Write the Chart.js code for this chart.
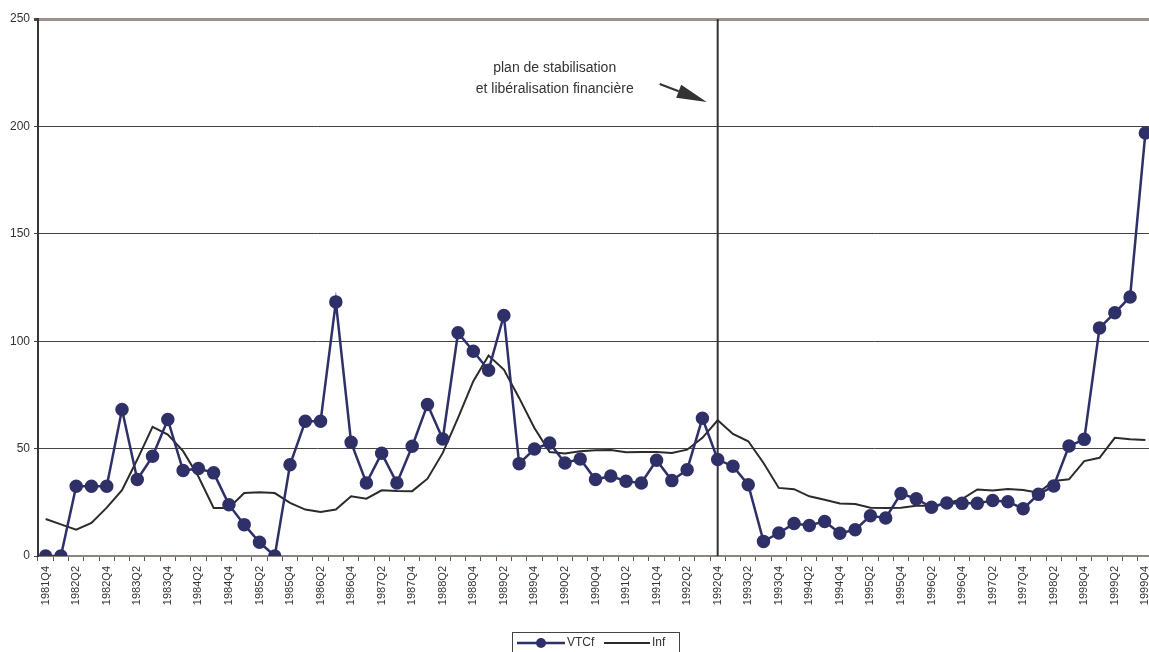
<!DOCTYPE html>
<html>
<head>
<meta charset="utf-8">
<script src="https://cdn.jsdelivr.net/npm/chart.js@4/dist/chart.umd.min.js"></script>
<style>
  html, body { margin: 0; padding: 0; background: #fff; overflow: hidden; }
  canvas { display: block; }
</style>
</head>
<body>
<canvas id="chart" width="1153" height="652"></canvas>
<script>
// quarters 1981Q4 .. 1999Q4
const years = [1982, 1983, 1984, 1985, 1986, 1987, 1988, 1989, 1990,
               1991, 1992, 1993, 1994, 1995, 1996, 1997, 1998, 1999];
const quarters = ["Q1", "Q2", "Q3", "Q4"];
const labels = ["1981Q4"];
years.forEach(y => quarters.forEach(q => labels.push(y + q)));

const vtcf = [0, 0, 32.5, 32.5, 32.5, 68.2, 35.6, 46.4, 63.5, 39.8, 40.7, 38.7,
  23.9, 14.6, 6.4, 0, 42.5, 62.7, 62.7, 118.3, 52.9, 34, 47.8, 34,
  51.1, 70.5, 54.5, 103.9, 95.3, 86.5, 112, 43, 49.8, 52.6, 43.3, 45.2,
  35.6, 37.2, 34.8, 34, 44.6, 35.1, 40.2, 64.1, 44.9, 41.8, 33.2, 6.8,
  10.7, 15.1, 14.2, 16.1, 10.6, 12.2, 18.7, 17.7, 29.1, 26.6, 22.7, 24.7,
  24.5, 24.5, 25.8, 25.3, 22, 28.7, 32.6, 51.2, 54.3, 106.2, 113.2, 120.6, 196.9];

const inf = [17.2, 14.7, 12.3, 15.4, 22.5, 30.6, 44.9, 60.1, 56.5, 48.8, 37, 22.4,
  22.4, 29.3, 29.7, 29.3, 24.7, 21.6, 20.5, 21.6, 27.8, 26.7, 30.6, 30.3,
  30.2, 36, 48, 64.3, 81.4, 93.3, 86.8, 73.6, 59.6, 48.4, 47.7, 48.8,
  49.2, 49.3, 48.3, 48.4, 48.4, 48, 49.5, 55, 63.2, 56.8, 53.4, 43.3,
  31.7, 31.1, 27.8, 26.2, 24.4, 24.2, 22.5, 22.3, 22.5, 23.4, 23.4, 24.5,
  26.5, 31, 30.5, 31.2, 30.7, 29.5, 34.9, 35.7, 44.2, 45.7, 55, 54.3, 54];

const eventQuarter = "1992Q4";
const noteLines = ["plan de stabilisation", "et libéralisation financière"];

const navy = "#2f3068";
const dark = "#2b2b2b";
Chart.defaults.font.family = "'Liberation Sans', Arial, sans-serif";
Chart.defaults.color = "#333";

// vertical line at the policy date
const eventLine = {
  id: "eventLine",
  beforeDatasetsDraw(chart) {
    const { ctx, chartArea, scales } = chart;
    const x = scales.x.getPixelForValue(labels.indexOf(eventQuarter));
    ctx.save();
    ctx.strokeStyle = "#333";
    ctx.lineWidth = 2;
    ctx.beginPath();
    ctx.moveTo(x, chartArea.top);
    ctx.lineTo(x, chartArea.bottom);
    ctx.stroke();
    ctx.restore();
  }
};

// text + arrow pointing at the line
const note = {
  id: "note",
  afterDraw(chart) {
    const { ctx, chartArea, scales } = chart;
    const x = scales.x.getPixelForValue(labels.indexOf(eventQuarter));
    ctx.save();
    ctx.fillStyle = "#333";
    ctx.font = "14px 'Liberation Sans', Arial, sans-serif";
    ctx.textAlign = "center";
    ctx.textBaseline = "middle";
    ctx.fillText(noteLines[0], x - 163, chartArea.top + 49);
    ctx.fillText(noteLines[1], x - 163, chartArea.top + 70);
    // arrow
    const x0 = x - 58, y0 = chartArea.top + 65;
    const x1 = x - 11, y1 = chartArea.top + 83;
    const ang = Math.atan2(y1 - y0, x1 - x0);
    const hl = 30, hw = 7;
    ctx.strokeStyle = "#333";
    ctx.lineWidth = 2;
    ctx.beginPath();
    ctx.moveTo(x0, y0);
    ctx.lineTo(x1 - hl * Math.cos(ang), y1 - hl * Math.sin(ang));
    ctx.stroke();
    ctx.beginPath();
    ctx.moveTo(x1, y1);
    ctx.lineTo(x1 - hl * Math.cos(ang) + hw * Math.sin(ang), y1 - hl * Math.sin(ang) - hw * Math.cos(ang));
    ctx.lineTo(x1 - hl * Math.cos(ang) - hw * Math.sin(ang), y1 - hl * Math.sin(ang) + hw * Math.cos(ang));
    ctx.closePath();
    ctx.fill();
    ctx.restore();
  }
};

// boxed legend under the axis labels
const boxLegend = {
  id: "boxLegend",
  afterDraw(chart) {
    const { ctx } = chart;
    const ds = chart.data.datasets;
    const bx = 512.5, by = 632.5, bw = 167, bh = 30;
    ctx.save();
    ctx.strokeStyle = "#444";
    ctx.lineWidth = 1;
    ctx.strokeRect(bx, by, bw, bh);
    ctx.font = "12px 'Liberation Sans', Arial, sans-serif";
    ctx.textBaseline = "middle";
    ctx.fillStyle = "#333";
    const cy = 643;
    // VTCf
    ctx.strokeStyle = ds[0].borderColor;
    ctx.lineWidth = 2.5;
    ctx.beginPath(); ctx.moveTo(517, cy); ctx.lineTo(565, cy); ctx.stroke();
    ctx.fillStyle = ds[0].pointBackgroundColor;
    ctx.beginPath(); ctx.arc(541, cy, 5, 0, Math.PI * 2); ctx.fill();
    ctx.fillStyle = "#333";
    ctx.fillText(ds[0].label, 567, cy);
    // Inf
    ctx.strokeStyle = ds[1].borderColor;
    ctx.lineWidth = 2;
    ctx.beginPath(); ctx.moveTo(604, cy); ctx.lineTo(650, cy); ctx.stroke();
    ctx.fillText(ds[1].label, 652, cy);
    ctx.restore();
  }
};

new Chart(document.getElementById("chart"), {
  type: "line",
  data: {
    labels: labels,
    datasets: [{
      label: "VTCf",
      data: vtcf,
      borderColor: navy,
      backgroundColor: navy,
      pointBackgroundColor: navy,
      pointBorderColor: navy,
      borderWidth: 2.5,
      pointRadius: 5.5,
      tension: 0,
      fill: false
    }, {
      label: "Inf",
      data: inf,
      borderColor: dark,
      borderWidth: 2,
      pointRadius: 0,
      tension: 0,
      fill: false
    }]
  },
  options: {
    responsive: false,
    animation: false,
    devicePixelRatio: 1,
    layout: { autoPadding: false, padding: { top: 19, left: 0, right: 0, bottom: 0 } },
    plugins: {
      legend: { display: false },
      tooltip: { enabled: false }
    },
    scales: {
      x: {
        offset: true,
        afterFit: s => { s.height = 96; s.paddingRight = 0; s.paddingLeft = 0; },
        grid: {
          offset: true,
          drawOnChartArea: false,
          drawTicks: true,
          tickLength: 5,
          tickColor: "#555"
        },
        border: { display: true, color: "#8c8480", width: 2 },
        ticks: {
          autoSkip: false,
          maxRotation: 90,
          minRotation: 90,
          padding: 5,
          font: { size: 11 },
          color: "#333",
          callback: (v, i) => (i % 2 === 0 ? labels[i] : "")
        }
      },
      y: {
        min: 0,
        max: 250,
        afterFit: s => { s.width = 38; },
        grid: {
          color: ctx => (ctx.tick && ctx.tick.value === 250 ? "#9d928c" : "#444"),
          lineWidth: ctx => (ctx.tick && ctx.tick.value === 250 ? 3 : 1),
          tickLength: 4,
          tickColor: "#444"
        },
        border: { display: true, color: "#3a3434", width: 2 },
        ticks: {
          stepSize: 50,
          padding: 4,
          font: { size: 12 },
          color: "#333"
        }
      }
    }
  },
  plugins: [eventLine, note, boxLegend]
});
</script>
</body>
</html>
